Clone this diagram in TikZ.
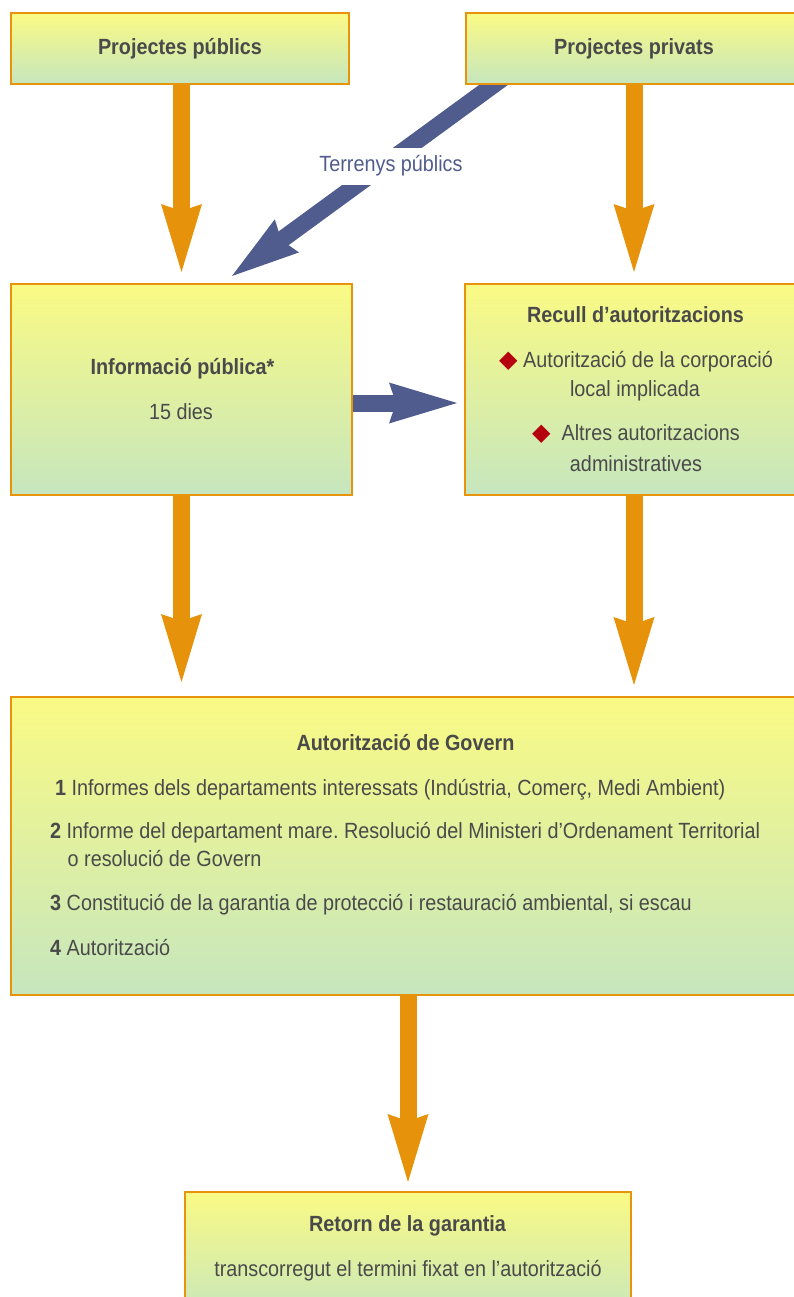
\documentclass[tikz,border=0pt]{standalone}
\usepackage{fontspec}
\setmainfont{Liberation Sans}[FakeStretch=0.9]
\newfontfamily\symfont{DejaVu Sans}
\usetikzlibrary{arrows.meta,calc}
\pgfdeclarelayer{bg}
\pgfsetlayers{bg,main}
\definecolor{boxor}{HTML}{E8930C}
\definecolor{arror}{HTML}{E6920A}
\definecolor{arblue}{HTML}{515C8E}
\definecolor{txt}{HTML}{4A4A4A}
\definecolor{gtop}{HTML}{FAFA84}
\definecolor{gbot}{HTML}{C6E6BE}
\definecolor{diamred}{HTML}{B4000F}
\newcommand\dia{{\symfont\fontsize{24}{24}\selectfont\color{diamred}◆}}
\frenchspacing
\begin{document}
\begin{tikzpicture}[x=1pt,y=-1pt,
  box/.style={rectangle,draw=boxor,line width=2.5pt,top color=gtop,bottom color=gbot,inner sep=0pt,outer sep=0pt},
  txtn/.style={inner sep=0pt,anchor=base,text=txt,font=\fontsize{22}{29}\selectfont},
  bold/.style={txtn,font=\fontsize{22}{29}\selectfont\bfseries},
  item/.style={txtn,anchor=base west},
  orarrow/.style={draw=arror,line width=17pt,-{Stealth[length=68pt,width=41pt,inset=7pt,line width=0pt]}},
  blarrow/.style={orarrow,draw=arblue},
]
\useasboundingbox (0,0) rectangle (794,1297);
\clip (0,0) rectangle (794,1297);
% boxes
\node[box,minimum width=338pt,minimum height=71pt] (pp) at (180,48.5) {};
\node[box,minimum width=344pt,minimum height=71pt] (priv) at (638,48.5) {};
\node[box,minimum width=341pt,minimum height=211pt] (ip) at (181.5,389.5) {};
\node[box,minimum width=345pt,minimum height=211pt] (rec) at (637.5,389.5) {};
\node[box,minimum width=799pt,minimum height=298pt] (gov) at (410.5,846) {};
\node[box,minimum width=446pt,minimum height=128pt] (ret) at (408,1256) {};
% texts
\node[bold] (t1) at (180,55) {Projectes públics};
\node[bold] (t2) at (634,55) {Projectes privats};
\node[bold] (t3) at (182.5,374.3) {Informació pública*};
\node[txtn] (t4) at (181,419) {15 dies};
\node[bold] (t5) at (635.5,322.7) {Recull d’autoritzacions};
\node[txtn] (t6) at (636,367) {\dia\ Autorització de la corporació};
\node[txtn] (t7) at (635,396.7) {local implicada};
\node[txtn] (t8) at (636,440.7) {\dia\ \ Altres autoritzacions};
\node[txtn] (t9) at (636,471.7) {administratives};
\node[bold] (t10) at (405.5,750) {Autorització de Govern};
\node[item] (t11) at (55,795) {\textbf{1} Informes dels departaments interessats (Indústria, Comerç, Medi Ambient)};
\node[item] (t12) at (50,838.3) {\textbf{2} Informe del departament mare. Resolució del Ministeri d’Ordenament Territorial};
\node[item] (t13) at (67.5,866.7) {o resolució de Govern};
\node[item] (t14) at (50,910) {\textbf{3} Constitució de la garantia de protecció i restauració ambiental, si escau};
\node[item] (t15) at (50,955) {\textbf{4} Autorització};
\node[bold] (t16) at (407.5,1231.7) {Retorn de la garantia};
\node[txtn] (t17) at (408,1276) {transcorregut el termini fixat en l’autorització};
\node[fill=white,text=arblue,font=\fontsize{22}{29}\selectfont,minimum height=37pt,text height=16pt,text depth=5pt,inner xsep=3pt,inner ysep=0pt] (tp) at (391,166.5) {Terrenys públics};
% connectors
\begin{pgfonlayer}{bg}
\draw[orarrow,shorten >=12pt] (ip.north |- pp.south) -- (ip.north);
\draw[orarrow,shorten >=12pt] ($(priv.south west)+(168,0)$) -- ($(rec.north west)+(169,0)$);
\draw[orarrow,shorten >=15pt] (ip.south) -- (ip.south |- gov.north);
\draw[orarrow,shorten >=12pt] ($(rec.south west)+(169,0)$) -- ($(rec.south west |- gov.north)+(169,0)$);
\draw[orarrow,shorten >=10pt] (ret.north |- gov.south) -- (ret.north);
\draw[blarrow,shorten >=8pt] ($(ip.east)+(0,13.5)$) -- ($(rec.west)+(0,13.5)$);
\draw[blarrow] ($(priv.south west)+(39.6,-7.9)$) -- ($(ip.north)+(50.5,-8)$);
\end{pgfonlayer}
\end{tikzpicture}
\end{document}
